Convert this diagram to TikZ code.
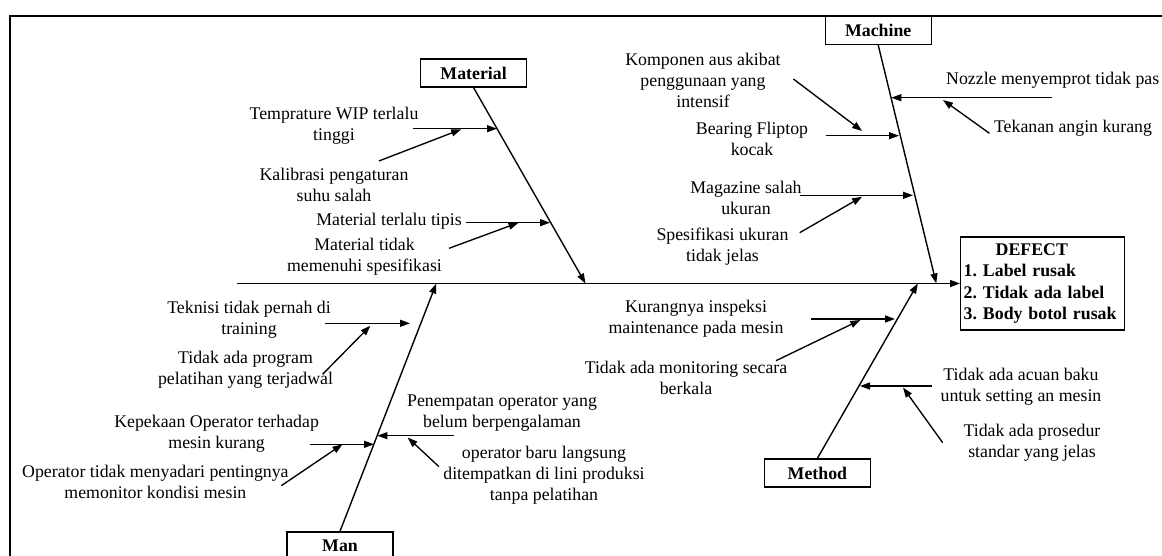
\documentclass[tikz,border=0pt]{standalone}
\usepackage{fontspec}
\setmainfont{Liberation Serif}
\usetikzlibrary{arrows.meta}
\begin{document}
\frenchspacing
\begin{tikzpicture}[x=1pt,y=-1pt,
  lbl/.style={font=\fontsize{17.8}{21}\selectfont, align=center, inner sep=0pt},
  catbox/.style={draw, line width=1.4pt, minimum width=106pt, minimum height=28pt, inner sep=0pt, font=\fontsize{17.8}{21}\selectfont\bfseries},
  bone/.style={line width=1.4pt, -{Triangle[length=10pt,width=7pt]}},
  cause/.style={line width=1.35pt, -{Triangle[length=10pt,width=7pt]}}]
\useasboundingbox (0,0) rectangle (1162,556);
\clip (0,0) rectangle (1162,556);
% frame
\draw[line width=2pt] (10,620) -- (10,16) -- (1220,16);

% category boxes
\node[catbox] (mat) at (473.6,73) {Material};
\node[catbox] (mach) at (878.2,30.3) {Machine};
\node[catbox] (man) at (340,546) {Man};
\node[catbox] (meth) at (817.4,473) {Method};

% effect box
\node[draw, line width=1.4pt, anchor=west, align=left, text width=158pt, inner xsep=3pt, inner ysep=0pt,
      minimum height=93pt, font=\fontsize{17.8}{21.5}\selectfont\bfseries] (defect) at (960,283.5)
  {\hspace*{32pt}DEFECT\\1. Label rusak\\2. Tidak ada label\\3. Body botol rusak};

% spine
\coordinate (spL) at (237,283.5);
\draw[bone] (spL) -- (defect.west);

% bones
\coordinate (matE) at (585.5,283.5);
\coordinate (machE) at (936.3,283.5);
\coordinate (manE) at (436.3,283.5);
\coordinate (methE) at (917.8,283.5);
\draw[bone] (mat.south) -- (matE);
\draw[bone] (mach.south) -- (machE);
\draw[bone] (man.north) -- (manE);
\draw[bone] (meth.north) -- (methE);

% texts
\node[lbl] (t1) at (334,126) {Temprature WIP terlalu\\tinggi};
\node[lbl] (t2) at (334,185) {Kalibrasi pengaturan\\suhu salah};
\node[lbl] (t3) at (389,221) {Material terlalu tipis};
\node[lbl] (t4) at (364.5,257) {Material tidak\\memenuhi spesifikasi};
\node[lbl] (t5) at (703,80) {Komponen aus akibat\\penggunaan yang\\intensif};
\node[lbl] (t6) at (752,139) {Bearing Fliptop\\kocak};
\node[lbl, anchor=west] (t7) at (946,80) {Nozzle menyemprot tidak pas};
\node[lbl] (t8) at (1073,128.3) {Tekanan angin kurang};
\node[lbl] (t9) at (746,198) {Magazine salah\\ukuran};
\node[lbl] (t10) at (722.5,247) {Spesifikasi ukuran\\tidak jelas};
\node[lbl] (t11) at (249,320) {Teknisi tidak pernah di\\training};
\node[lbl] (t12) at (245.5,370) {Tidak ada program\\pelatihan yang terjadwal};
\node[lbl] (t13) at (216.6,434) {Kepekaan Operator terhadap\\mesin kurang};
\node[lbl] (t14) at (155.4,482) {Operator tidak menyadari pentingnya\\memonitor kondisi mesin};
\node[lbl] (t15) at (502,412.7) {Penempatan operator yang\\belum berpengalaman};
\node[lbl] (t16) at (544,475.7) {operator baru langsung\\ditempatkan di lini produksi\\tanpa pelatihan};
\node[lbl] (t17) at (696,319) {Kurangnya inspeksi\\maintenance pada mesin};
\node[lbl] (t18) at (686,378) {Tidak ada monitoring secara\\berkala};
\node[lbl] (t19) at (1021,387) {Tidak ada acuan baku\\untuk setting an mesin};
\node[lbl] (t20) at (1032,443) {Tidak ada prosedur\\standar yang jelas};

% cause arrow end points
\coordinate (a1s) at (412.5,128.7);  \coordinate (a1e) at (497,128.7);
\coordinate (a2s) at (378.9,161);    \coordinate (a2e) at (461.2,129.3);
\coordinate (a3s) at (466,222.7);    \coordinate (a3e) at (550,222.7);
\coordinate (a4s) at (449,248.3);    \coordinate (a4e) at (518.5,222.7);
\coordinate (a5s) at (793.4,79);     \coordinate (a5e) at (862.1,131);
\coordinate (a6s) at (825.7,135.7);  \coordinate (a6e) at (899,135.7);
\coordinate (a7s) at (1052.2,97.7);  \coordinate (a7e) at (891.3,97.7);
\coordinate (a8s) at (989.4,133.3);  \coordinate (a8e) at (943,100);
\coordinate (a9s) at (799.7,195.3);  \coordinate (a9e) at (913,195.3);
\coordinate (a10s) at (799.7,232.7); \coordinate (a10e) at (862.1,196.7);
\coordinate (a11s) at (325.3,323.3); \coordinate (a11e) at (410,323.3);
\coordinate (a12s) at (322.6,374.3); \coordinate (a12e) at (370.4,325.7);
\coordinate (a13s) at (310,444.3);   \coordinate (a13e) at (374,444.3);
\coordinate (a14s) at (281.3,485.7); \coordinate (a14e) at (342.5,444.3);
\coordinate (a15s) at (453.5,435.7); \coordinate (a15e) at (377.4,435.7);
\coordinate (a16s) at (439,466.7);   \coordinate (a16e) at (407.6,437.5);
\coordinate (a17s) at (810.9,319);   \coordinate (a17e) at (895,319);
\coordinate (a18s) at (776,360.7);   \coordinate (a18e) at (860.3,320);
\coordinate (a19s) at (931.5,386);   \coordinate (a19e) at (860,386);
\coordinate (a20s) at (942.7,442.7); \coordinate (a20e) at (903,387.5);

\foreach \i in {1,...,20} {\draw[cause] (a\i s) -- (a\i e);}
\end{tikzpicture}
\end{document}
